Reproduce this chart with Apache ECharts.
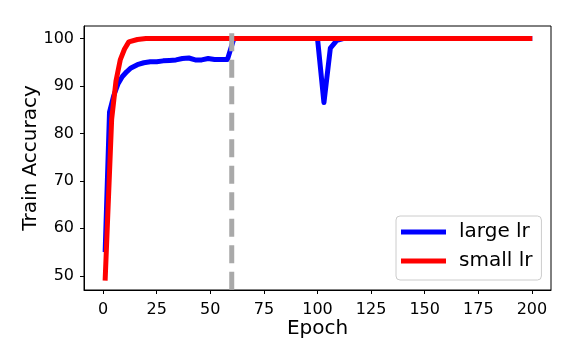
<!DOCTYPE html>
<html>
<head>
<meta charset="utf-8">
<script src="https://cdn.jsdelivr.net/npm/echarts@6/dist/echarts.min.js"></script>
<style>
  html, body { margin: 0; padding: 0; background: #fff; }
  #chart { width: 576px; height: 360px; }
</style>
</head>
<body>
<div id="chart"></div>
<script>
const xTicks = [0, 25, 50, 75, 100, 125, 150, 175, 200];
const yTicks = [50, 60, 70, 80, 90, 100];

const largeEpoch = [1, 3, 5, 7, 9, 11, 13, 16, 19, 22, 25, 28, 31, 34, 37, 40, 43, 46, 49, 52, 55, 58, 61, 100, 103, 106, 109, 112, 199];
const largeAcc = [55.5, 84.5, 88, 90.5, 92, 93, 93.8, 94.5, 94.9, 95.1, 95.1, 95.3, 95.4, 95.5, 95.8, 95.9, 95.5, 95.5, 95.8, 95.6, 95.6, 95.6, 100, 100, 86.5, 98, 99.6, 100, 100];

const smallEpoch = [1, 4, 6, 8, 10, 12, 16, 20, 199];
const smallAcc = [49.5, 83, 91, 95.5, 97.8, 99.3, 99.8, 100, 100];

const switchEpoch = [60, 60];
const switchAcc = [101.1, 40];

const pairs = (xs, ys) => xs.map((x, i) => [x, ys[i]]);

const chart = echarts.init(document.getElementById("chart"), null, { renderer: "canvas" });
const font = "DejaVu Sans";

chart.setOption({
  animation: false,
  textStyle: { fontFamily: font, color: "#000" },
  grid: {
    left: 84, right: 25, top: 26, bottom: 70,
    show: true, borderColor: "#000", borderWidth: 1, backgroundColor: "#fff",
  },
  legend: {
    orient: "vertical",
    left: 396, top: 216,
    padding: [6, 9, 9, 5],
    itemGap: 9,
    itemWidth: 45, itemHeight: 5,
    icon: "rect",
    backgroundColor: "rgba(255,255,255,0.8)",
    borderColor: "#ccc", borderWidth: 1, borderRadius: 4,
    textStyle: { fontFamily: font, fontSize: 20, lineHeight: 20, color: "#000", padding: [0, 0, 0, 8] },
    data: ["large lr", "small lr"],
  },
  xAxis: {
    type: "value",
    min: -8.9, max: 208.9,
    name: "Epoch",
    nameLocation: "middle",
    nameGap: 29,
    nameMoveOverlap: false,
    nameTextStyle: { fontFamily: font, fontSize: 20, color: "#000" },
    axisLine: { show: true, onZero: false, lineStyle: { color: "#000", width: 1 } },
    axisTick: { show: true, length: 4, customValues: xTicks, lineStyle: { color: "#000" } },
    axisLabel: { customValues: xTicks, fontFamily: font, fontSize: 16, color: "#000", margin: 12 },
    splitLine: { show: false },
  },
  yAxis: {
    type: "value",
    min: 47, max: 102.65,
    name: "Train Accuracy",
    nameLocation: "middle",
    nameGap: 43,
    nameMoveOverlap: false,
    nameTextStyle: { fontFamily: font, fontSize: 20, color: "#000" },
    axisLine: { show: true, onZero: false, lineStyle: { color: "#000", width: 1 } },
    axisTick: { show: true, length: 4, customValues: yTicks, lineStyle: { color: "#000" } },
    axisLabel: { customValues: yTicks, fontFamily: font, fontSize: 16, color: "#000", margin: 10 },
    splitLine: { show: false },
  },
  series: [
    {
      name: "large lr",
      type: "line",
      showSymbol: false,
      color: "#0000ff",
      lineStyle: { width: 5, color: "#0000ff", cap: "square", join: "round" },
      data: pairs(largeEpoch, largeAcc),
    },
    {
      name: "small lr",
      type: "line",
      showSymbol: false,
      color: "#ff0000",
      lineStyle: { width: 5, color: "#ff0000", cap: "square", join: "round" },
      data: pairs(smallEpoch, smallAcc),
    },
    {
      name: "switch",
      type: "line",
      showSymbol: false,
      silent: true,
      lineStyle: { width: 5, color: "#a9a9a9", type: [18, 8.5], cap: "butt" },
      data: pairs(switchEpoch, switchAcc),
    },
  ],
});
</script>
</body>
</html>
